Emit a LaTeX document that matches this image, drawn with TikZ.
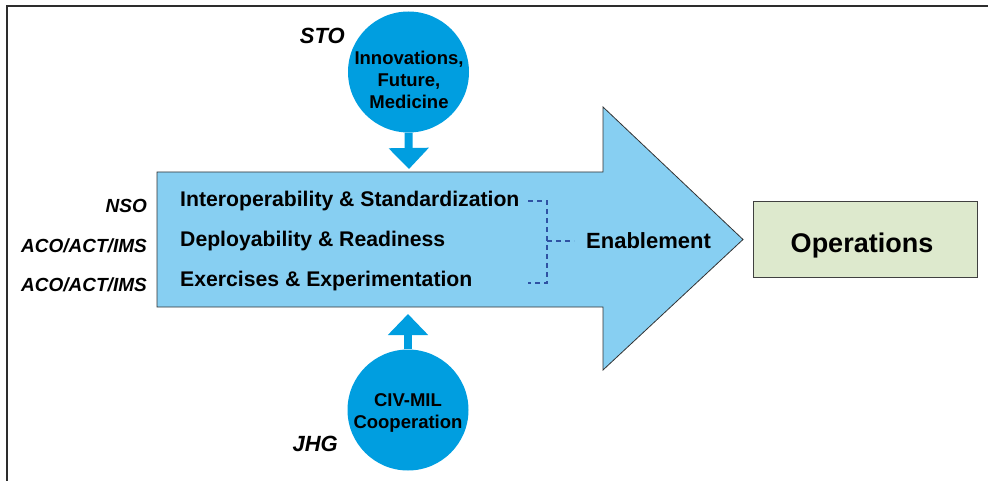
\documentclass[tikz,border=0pt]{standalone}
\usepackage{fontspec}
\setmainfont{Liberation Sans}
\usetikzlibrary{arrows.meta}
\definecolor{arrowblue}{RGB}{135,207,242}
\definecolor{circblue}{RGB}{0,158,224}
\definecolor{dashblue}{RGB}{47,82,163}
\definecolor{opsgreen}{RGB}{221,233,205}
\definecolor{framegray}{RGB}{45,45,45}
\tikzset{
  lbl/.style={font=\fontsize{19}{19}\selectfont\bfseries\itshape,anchor=base east,inner sep=0pt},
  item/.style={font=\fontsize{21.2}{21.2}\selectfont\bfseries,anchor=base west,inner sep=0pt},
  circ/.style={circle,fill=circblue,minimum size=121pt,inner sep=0pt},
  circtxt/.style={font=\fontsize{18.5}{22}\selectfont\bfseries,align=center,inner sep=0pt},
  blockarrow/.style={circblue,line width=8pt,-{Triangle[width=39pt,length=21pt]}},
  bracket/.style={dashblue,line width=1.3pt,dash pattern=on 5pt off 4pt},
}
\begin{document}
\begin{tikzpicture}[x=1pt,y=-1pt]
\useasboundingbox (0,0) rectangle (988,481);
% frame
\draw[framegray,line width=2pt] (7,481) -- (7,6) -- (988,6);
% big arrow
\draw[fill=arrowblue,draw=black!80,line width=0.8pt]
  (157,172) -- (603,172) -- (603,107) -- (743,239.5) -- (603,370) -- (603,307) -- (157,307) -- cycle;
\coordinate (tip) at (743,239.5);
% circles
\node[circ] (sto) at (408.5,72) {};
\node[circtxt,anchor=base] (stotxt) at (409,109) {Innovations,\\Future,\\Medicine};
\node[circ] (jhg) at (408,410) {};
\node[circtxt,anchor=base] (jhgtxt) at (408,428) {CIV-MIL\\Cooperation};
\coordinate (stoend) at (409,169);
\coordinate (jhgend) at (408,314);
\draw[blockarrow] (sto.south) -- (stoend);
\draw[blockarrow] (jhg.north) -- (jhgend);
% labels
\node[font=\fontsize{22}{22}\selectfont\bfseries\itshape,anchor=base east,inner sep=0pt] (stol) at (345,44) {STO};
\node[font=\fontsize{22}{22}\selectfont\bfseries\itshape,anchor=base east,inner sep=0pt] (jhgl) at (338,451) {JHG};
\node[lbl] (nso) at (147,213) {NSO};
\node[lbl] (aco1) at (147,252) {ACO/ACT/IMS};
\node[lbl] (aco2) at (147,291) {ACO/ACT/IMS};
% items
\node[item] (i1) at (180,207) {Interoperability \& Standardization};
\node[item] (i2) at (180,247) {Deployability \& Readiness};
\node[item] (i3) at (180,287) {Exercises \& Experimentation};
% bracket
\coordinate (b1) at (528,201);
\coordinate (b2) at (547,201);
\coordinate (b3) at (547,283);
\coordinate (b4) at (528,283);
\coordinate (bm) at (547,241);
\coordinate (bme) at (574,241);
\draw[bracket] (b1) -- (b2) -- (b3) -- (b4);
\draw[bracket] (bm) -- (bme);
\node[font=\fontsize{22}{22}\selectfont\bfseries,anchor=base west,inner sep=0pt] (en) at (586,248) {Enablement};
% operations
\node[draw=black!75,line width=1pt,fill=opsgreen,minimum width=224pt,minimum height=75pt,inner sep=0pt] (ops) at (865,239.5) {};
\node[font=\fontsize{27}{27}\selectfont\bfseries,anchor=base,inner sep=0pt] (opstxt) at (862,253) {Operations};
\end{tikzpicture}
\end{document}
